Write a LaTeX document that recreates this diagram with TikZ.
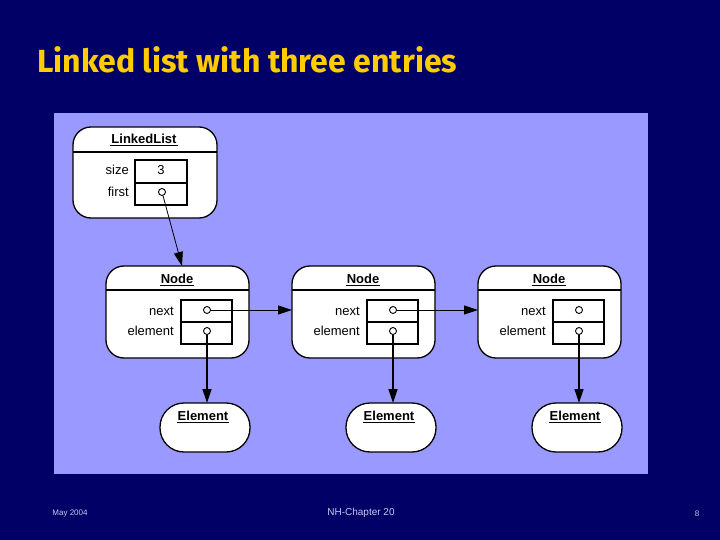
\documentclass[tikz,border=0pt]{standalone}
\usepackage{fontspec}
\setmainfont{Liberation Sans}
\newfontfamily\titlefont{Fira Sans}
\usetikzlibrary{arrows.meta}
\definecolor{navy}{HTML}{000066}
\definecolor{panel}{HTML}{9999FF}
\definecolor{ttl}{HTML}{FFCC00}
\definecolor{foot}{HTML}{C8C8F0}
\tikzset{
  obj/.style={draw=black,line width=1.3pt,fill=white,rounded corners=18pt},
  fld/.style={draw=black,line width=1.1pt},
  lbl/.style={font=\fontsize{13}{15}\selectfont,anchor=east,inner sep=0pt},
  hdr/.style={font=\bfseries\fontsize{13}{15}\selectfont,inner sep=1pt},
  dot/.style={circle,draw=black,line width=0.9pt,fill=white,inner sep=0pt,minimum size=7pt},
  ptr/.style={line width=0.8pt,-{Triangle[length=14pt,width=9pt]}},
}
\begin{document}
\begin{tikzpicture}[x=1pt,y=-1pt]
\fill[navy] (0,0) rectangle (720,540);
\useasboundingbox (0,0) rectangle (720,540);
\fill[panel] (54,113) rectangle (648,474);
\node (title) [font=\titlefont\bfseries\fontsize{32}{36}\selectfont,text=ttl,anchor=west,inner sep=0pt] at (37,60) {Linked list with three entries};
\node (f1) [font=\fontsize{8}{9}\selectfont,text=foot] at (70,514) {May 2004};
\node (f2) [font=\fontsize{10}{12}\selectfont,text=foot] at (361,513) {NH-Chapter 20};
\node (f3) [font=\fontsize{8}{9}\selectfont,text=foot] at (697,514) {8};
% LinkedList
\draw[obj] (73,127) rectangle (217,218);
\draw[line width=1.1pt] (73,152) -- (217,152);
\node (ll) [hdr] at (144,139) {LinkedList};
\draw[line width=0.6pt] (ll.south west) -- (ll.south east);
\draw[fld] (135,160) rectangle (187,205);
\draw[fld] (135,183) -- (187,183);
\node[lbl] at (129,170) {size};
\node[lbl] at (129,192) {first};
\node[font=\fontsize{13}{15}\selectfont] at (161,170) {3};
\node (c0) [dot] at (162,192) {};
% Nodes
\foreach \i/\dx in {1/0,2/186,3/372}{
  \draw[obj] (106+\dx,266) rectangle (249+\dx,358);
  \draw[line width=1.1pt] (106+\dx,290) -- (249+\dx,290);
  \node (h\i) [hdr] at (177+\dx,279) {Node};
  \draw[line width=0.6pt] (h\i.south west) -- (h\i.south east);
  \draw[fld] (181+\dx,300) rectangle (232+\dx,344);
  \draw[fld] (181+\dx,322) -- (232+\dx,322);
  \node[lbl] at (174+\dx,311) {next};
  \node[lbl] at (174+\dx,331) {element};
  \node (n\i) [dot] at (207+\dx,310) {};
  \node (e\i) [dot] at (207+\dx,331) {};
  \coordinate (in\i) at (106+\dx,310);
  \draw[obj,rounded corners=24pt] (160+\dx,403) rectangle (250+\dx,452);
  \node (el\i) [hdr] at (203+\dx,416) {Element};
  \draw[line width=0.6pt] (el\i.south west) -- (el\i.south east);
  \coordinate (et\i) at (207+\dx,403);
  \draw[ptr,line width=1.3pt] (e\i) -- (et\i);
}
\coordinate (top1) at (182,266);
\draw[ptr] (c0) -- (top1);
\draw[ptr] (n1) -- (in2);
\draw[ptr] (n2) -- (in3);
\end{tikzpicture}
\end{document}
